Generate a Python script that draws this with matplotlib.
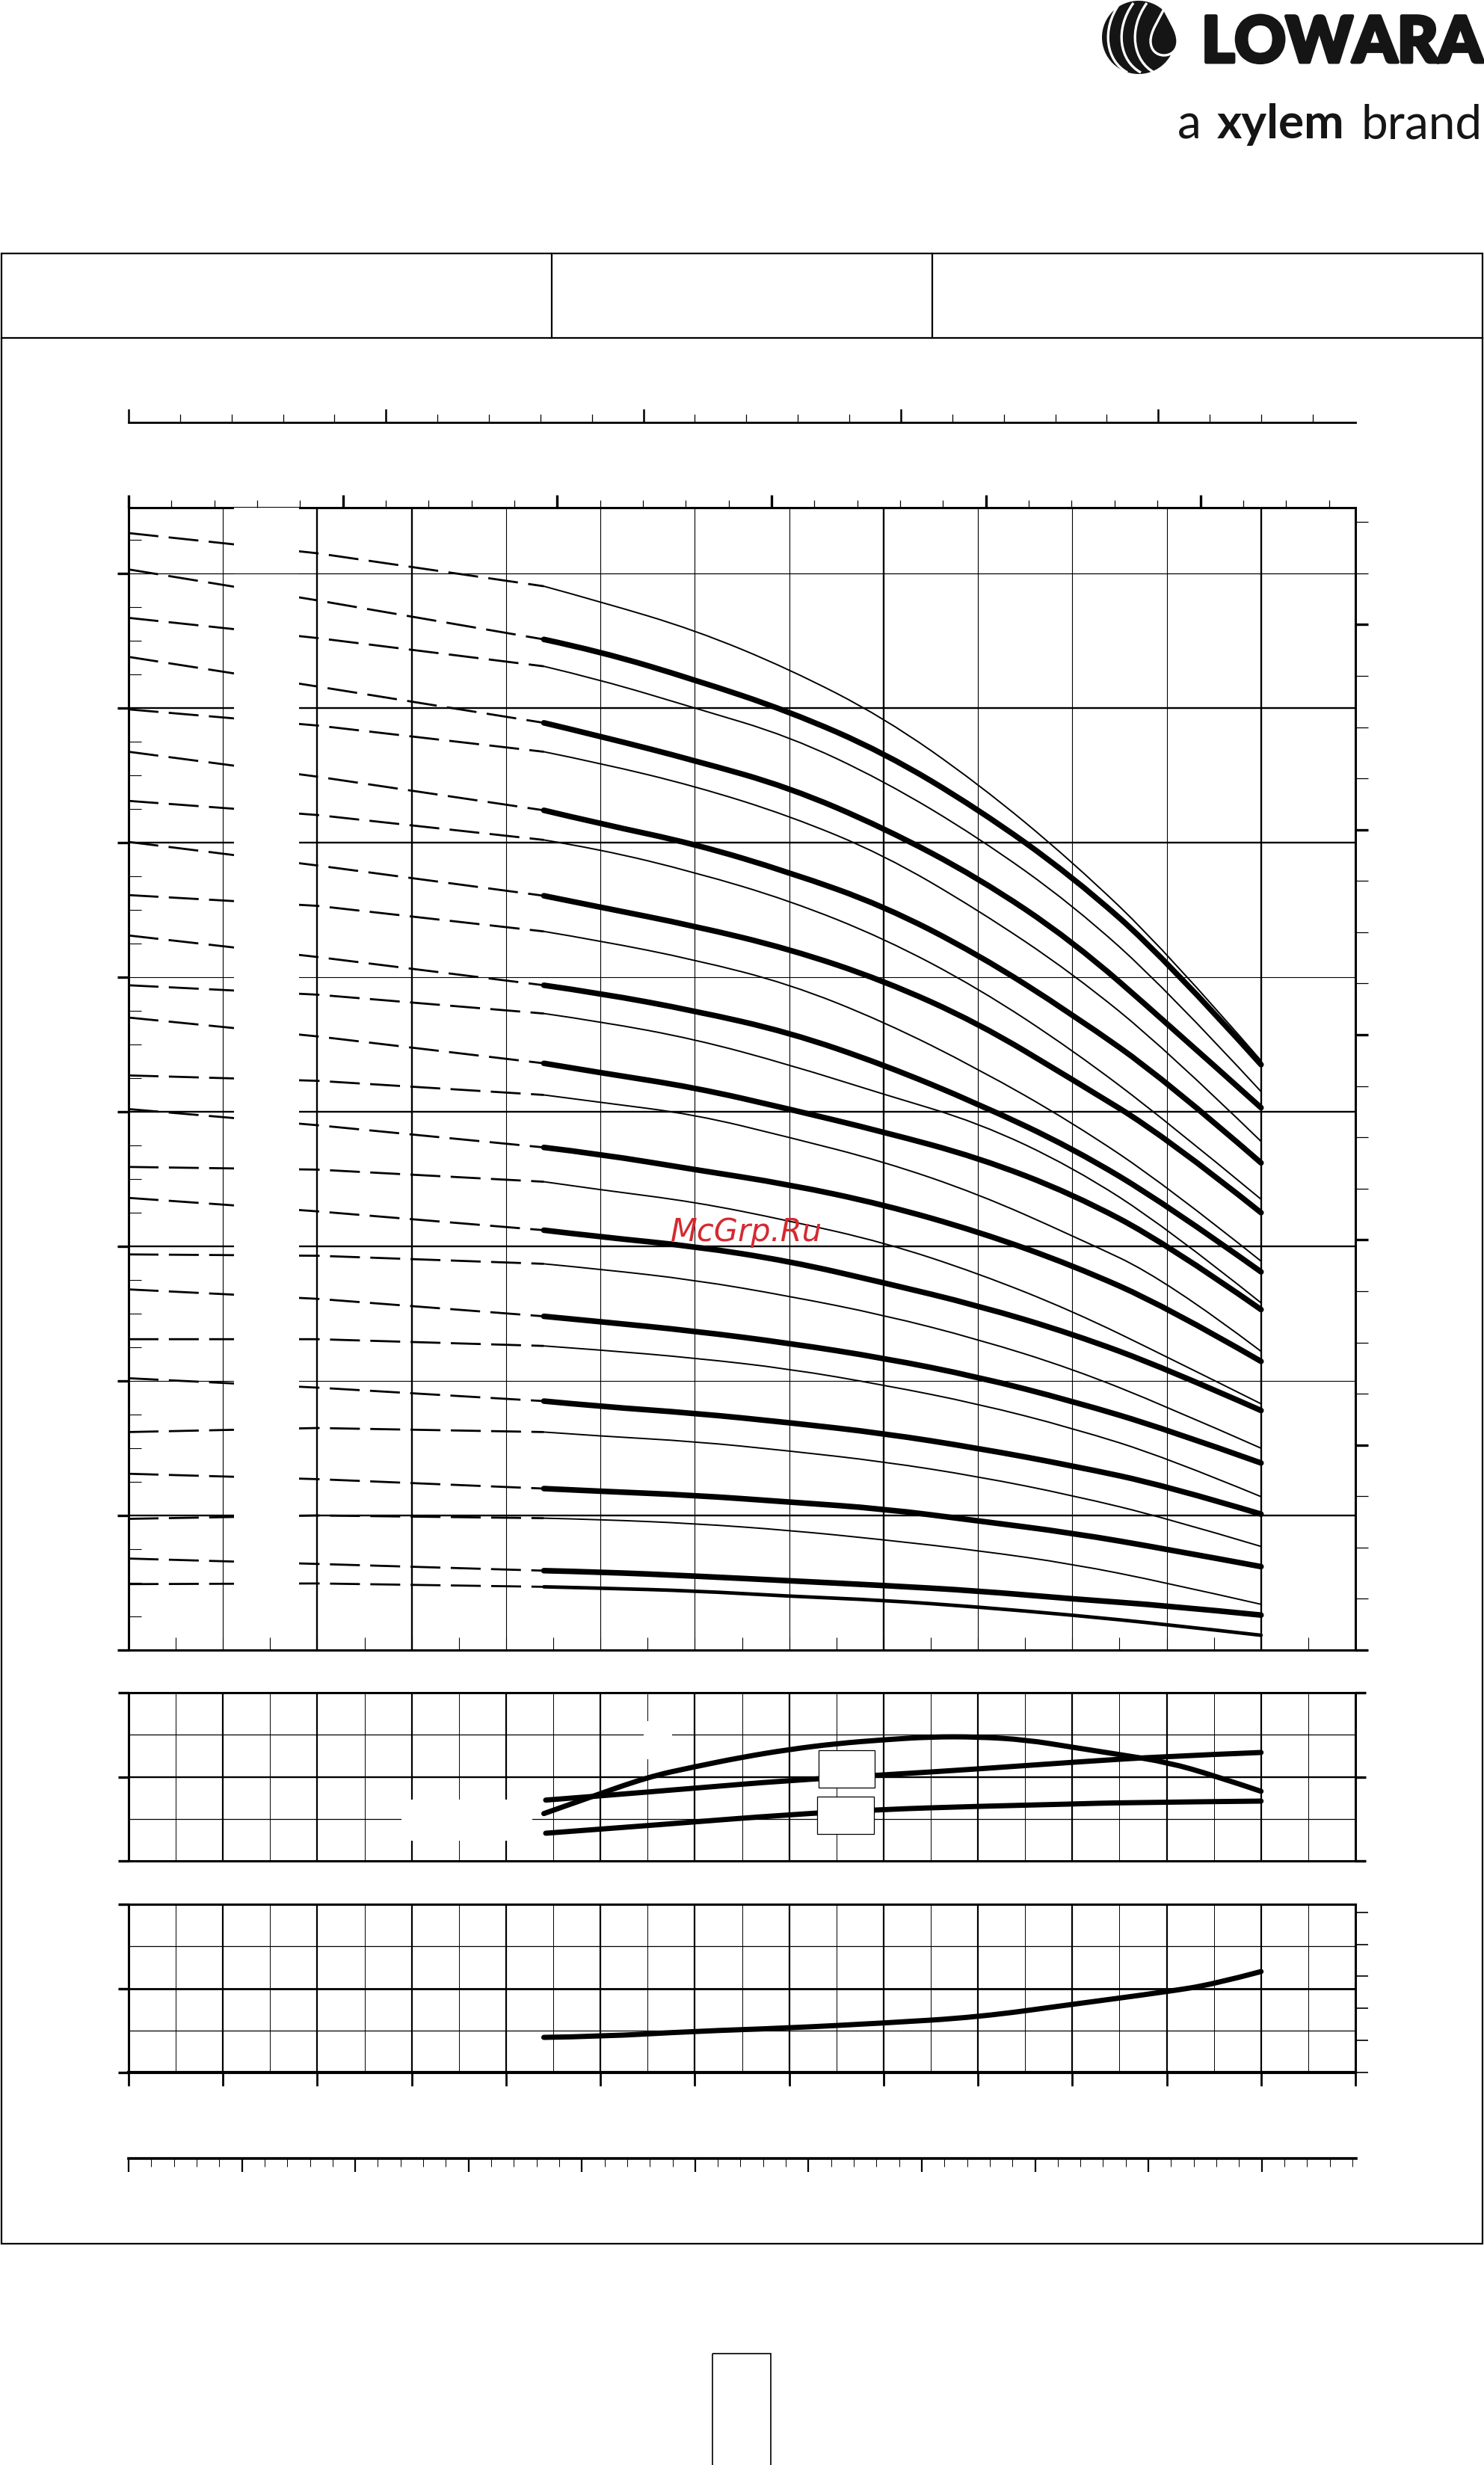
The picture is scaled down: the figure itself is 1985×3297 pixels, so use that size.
import numpy as np
import matplotlib.pyplot as plt
import matplotlib.patheffects as pe
from matplotlib.patches import Rectangle, Circle, PathPatch
from matplotlib.path import Path
from matplotlib.ticker import MultipleLocator

W, H = 1985, 3297

# flow (m3/h) where the head readings were taken
q_dash = [0, 2, 4.4]
q_run = [4.4, 5, 6, 7, 8, 9, 10, 11, 12]

# head (m), thick curves: dashed part and solid part
thick_dash = [
    [160.6, 156.0, 150.2],
    [147.6, 143.2, 137.8],
    [133.5, 129.8, 124.8],
    [120.1, 116.6, 112.1],
    [106.2, 103.0, 98.8],
    [94.0, 91.2, 87.2],
    [80.4, 78.0, 74.7],
    [67.2, 65.2, 62.4],
    [53.6, 52.2, 49.6],
    [40.4, 39.0, 37.0],
    [26.2, 25.4, 24.0],
    [13.6, 12.8, 11.8],
]
thick_run = [
    [150.2, 148.4, 144.2, 139.5, 133.4, 125.0, 115.0, 102.6, 87.0],
    [137.8, 135.8, 132.2, 128.2, 122.2, 114.8, 105.4, 93.2, 80.6],
    [124.8, 122.8, 119.8, 115.6, 110.6, 103.4, 94.5, 84.6, 72.4],
    [112.1, 110.4, 107.6, 104.2, 99.5, 93.2, 84.8, 76.2, 65.0],
    [98.8, 97.6, 95.0, 91.8, 87.0, 81.2, 74.6, 66.2, 56.2],
    [87.2, 85.8, 83.6, 80.4, 77.0, 73.2, 67.8, 60.4, 50.6],
    [74.7, 73.7, 71.4, 69.2, 66.2, 62.2, 57.2, 51.0, 42.9],
    [62.4, 61.4, 60.0, 57.8, 54.6, 51.2, 47.0, 41.8, 35.6],
    [49.6, 48.8, 47.4, 45.6, 43.4, 40.6, 37.0, 32.8, 27.8],
    [37.0, 36.2, 35.2, 33.8, 32.2, 30.0, 27.4, 24.4, 20.2],
    [24.0, 23.6, 23.0, 22.0, 21.0, 19.2, 17.4, 15.0, 12.4],
    [11.8, 11.6, 11.0, 10.3, 9.6, 8.8, 7.6, 6.6, 5.2],
]

# head (m), thin curves
thin_dash = [
    [166.0, 163.0, 158.1],
    [153.4, 150.4, 146.2],
    [139.8, 137.4, 133.5],
    [126.2, 124.1, 120.4],
    [112.2, 110.6, 106.8],
    [98.8, 97.4, 94.6],
    [85.4, 84.6, 82.5],
    [71.8, 71.4, 69.6],
    [58.8, 58.6, 57.4],
    [46.2, 46.2, 45.2],
    [32.4, 33.0, 32.4],
    [19.5, 20.0, 19.6],
]
thin_run = [
    [158.1, 155.8, 151.6, 145.8, 138.6, 128.8, 117.2, 103.8, 87.6],
    [146.2, 144.2, 140.0, 135.8, 129.2, 120.8, 110.8, 98.2, 83.0],
    [133.5, 131.8, 128.4, 124.0, 118.2, 110.0, 100.6, 89.2, 75.6],
    [120.4, 119.0, 115.6, 111.4, 105.8, 98.4, 89.2, 78.6, 67.0],
    [106.8, 105.4, 102.6, 99.0, 93.4, 86.4, 78.4, 69.0, 57.8],
    [94.6, 93.4, 90.8, 87.0, 82.6, 78.4, 71.8, 62.8, 51.6],
    [82.5, 81.4, 79.6, 76.2, 72.6, 67.8, 61.6, 55.0, 44.4],
    [69.6, 68.4, 66.6, 63.8, 60.6, 56.0, 50.4, 43.6, 36.6],
    [57.4, 56.6, 55.0, 52.6, 49.8, 46.2, 41.8, 36.2, 30.0],
    [45.2, 44.6, 43.4, 41.8, 39.4, 36.6, 33.0, 28.6, 22.8],
    [32.4, 31.8, 31.0, 29.6, 28.0, 25.8, 23.0, 19.6, 15.4],
    [19.6, 19.4, 18.8, 17.8, 16.4, 14.8, 12.8, 10.0, 6.8],
]

# lowest curve (medium weight)
low_dash = [9.8, 9.9, 9.4]
low_run = [9.4, 9.2, 8.8, 8.0, 7.4, 6.4, 5.2, 3.8, 2.2]

# efficiency (%)
q_eff = [4.4, 4.83, 5.5, 6.0, 6.51, 7.0, 7.5, 8.0, 8.49, 9.0, 9.51, 10.01, 10.51, 11.01, 11.51, 12.0]
eff = [22.5, 29.3, 39.9, 44.8, 49.4, 53.0, 55.8, 57.6, 59.0, 59.0, 57.6, 54.0, 50.5, 46.9, 40.5, 33.1]

# power (kW)
q_p1 = [4.42, 5.0, 6.0, 6.96, 8.0, 9.0, 10.0, 11.0, 12.0]
p1 = [0.723, 0.773, 0.865, 0.954, 1.022, 1.093, 1.173, 1.244, 1.289]
q_p2 = [4.42, 5.5, 5.77, 7.0, 8.0, 9.0, 10.0, 10.5, 12.0]
p2 = [0.329, 0.42, 0.444, 0.551, 0.613, 0.649, 0.676, 0.693, 0.711]

# NPSH (m)
q_npsh = [4.4, 5.0, 6.0, 6.96, 8.0, 9.0, 10.0, 11.0, 11.5, 12.0]
npsh = [1.67, 1.71, 1.96, 2.11, 2.35, 2.63, 3.24, 3.84, 4.2, 4.8]

# grid positions
grid_q_thick = [2, 3, 8, 12]
grid_q_thin = [1, 4, 5, 6, 7, 9, 10, 11]
grid_h_thick = [20, 60, 80, 120, 140]
grid_h_thin = [40, 100, 160]
half_q = [0.5 + i for i in range(13)]
int_q = list(range(1, 13))


def box(l, t, r, b):
    return [l / W, 1 - b / H, (r - l) / W, (b - t) / H]


def curve(a, xs, ys, lw, transform=None):
    # quadratic bezier path through the readings (control points = readings)
    pts = list(zip(xs, ys))
    verts = [pts[0]]
    codes = [Path.MOVETO]
    for i in range(1, len(pts) - 1):
        mid = ((pts[i][0] + pts[i + 1][0]) / 2, (pts[i][1] + pts[i + 1][1]) / 2)
        verts += [pts[i], mid]
        codes += [Path.CURVE3, Path.CURVE3]
    verts[-1] = pts[-1]
    patch = PathPatch(Path(verts, codes), fc='none', ec='k', lw=lw,
                      capstyle='round', joinstyle='round', zorder=3)
    if transform is not None:
        patch.set_transform(transform)
    a.add_patch(patch)


fig = plt.figure(figsize=(W / 100, H / 100), dpi=100)

# page frame, header and logo
bg = fig.add_axes([0, 0, 1, 1])
bg.set_xlim(0, W)
bg.set_ylim(H, 0)
bg.axis('off')
bg.add_patch(Rectangle((2, 339), 1981, 2662, fill=False, lw=1.6, ec='k'))
bg.plot([2, 1983], [452, 452], color='k', lw=1.6)
bg.plot([738, 738], [339, 452], color='k', lw=1.6)
bg.plot([1247, 1247], [339, 452], color='k', lw=1.6)
bg.add_patch(Rectangle((953, 3148), 78, 170, fill=False, lw=1.2, ec='k'))

ink = '#151515'
bg.add_patch(Circle((1523, 50), 49, fc=ink, ec='none'))
for x0 in [1498, 1516, 1534]:
    p = Path([(x0, 4), (x0 - 26, 40), (x0 - 18, 82), (x0 + 10, 97)],
             [Path.MOVETO, Path.CURVE4, Path.CURVE4, Path.CURVE4])
    bg.add_patch(PathPatch(p, fc='none', ec='white', lw=2.4))
drop = Path([(1557, 12),
             (1549, 28), (1539, 42), (1539, 55),
             (1539, 67), (1547, 74), (1557, 74),
             (1567, 74), (1575, 67), (1575, 55),
             (1575, 42), (1565, 28), (1557, 12),
             (1557, 12)],
            [Path.MOVETO] + [Path.CURVE4] * 12 + [Path.CLOSEPOLY])
bg.add_patch(PathPatch(drop, fc=ink, ec='white', lw=2.4))

r = fig.canvas.get_renderer()
logo = fig.text(1983 / W, 1 - 83 / H, 'LOWARA', family='Lato', weight='black',
                fontsize=64, ha='right', va='baseline', color=ink)
wd = logo.get_window_extent(r).width
logo.set_fontsize(64 * 376 / wd)
logo.set_path_effects([pe.withStroke(linewidth=3.5, foreground=ink)])
t3 = fig.text(1983 / W, 1 - 185 / H, 'brand', family='Lato', fontsize=46,
              ha='right', va='baseline', color=ink)
b3 = t3.get_window_extent(r)
t2 = fig.text((b3.x0 - 22) / W, 1 - 185 / H, 'xylem', family='Lato', weight='bold',
              fontsize=46, ha='right', va='baseline', color=ink)
b2 = t2.get_window_extent(r)
fig.text((b2.x0 - 22) / W, 1 - 185 / H, 'a', family='Lato', fontsize=46,
         ha='right', va='baseline', color=ink)

# Imp gpm scale
axi = fig.add_axes(box(172, 540, 1813, 565))
axi.set_facecolor('none')
axi.set_xlim(0, 13 / 0.272765)
axi.set_ylim(0, 1)
for s in ['top', 'left', 'right']:
    axi.spines[s].set_visible(False)
axi.spines['bottom'].set_linewidth(2.0)
axi.set_yticks([])
axi.xaxis.set_major_locator(MultipleLocator(10))
axi.xaxis.set_minor_locator(MultipleLocator(2))
axi.tick_params(axis='x', which='major', direction='in', length=13, width=1.8, labelbottom=False)
axi.tick_params(axis='x', which='minor', direction='in', length=8, width=0.9)

# l/min scale
axl = fig.add_axes(box(172, 2887, 1814, 2915))
axl.set_facecolor('none')
axl.set_xlim(0, 13 * 1000 / 60)
axl.set_ylim(0, 1)
for s in ['bottom', 'left', 'right']:
    axl.spines[s].set_visible(False)
axl.spines['top'].set_linewidth(2.6)
axl.set_yticks([])
axl.xaxis.set_ticks_position('top')
axl.xaxis.set_major_locator(MultipleLocator(20))
axl.xaxis.set_minor_locator(MultipleLocator(4))
axl.tick_params(axis='x', which='major', direction='in', length=13, width=1.6, labeltop=False)
axl.tick_params(axis='x', which='minor', direction='in', length=8, width=0.7)

# main head chart
hmax = (2207 - 679) / 9
ax = fig.add_axes(box(172, 679, 1813, 2207))
ax.set_xlim(0, 13)
ax.set_ylim(0, hmax)
axr = ax.twinx()
axr.set_ylim(0, hmax * 3.28084)
axt = ax.twiny()
axt.set_xlim(0, 13 * 4.40287)

for q in grid_q_thin:
    ax.axvline(q, color='k', lw=0.8, zorder=1)
for q in grid_q_thick:
    ax.axvline(q, color='k', lw=1.7, zorder=1)
for h in grid_h_thin:
    ax.axhline(h, color='k', lw=0.8, zorder=1)
for h in grid_h_thick:
    ax.axhline(h, color='k', lw=1.7, zorder=1)

for hd, hr in zip(thin_dash, thin_run):
    ax.plot(q_dash, hd, color='k', lw=2.0, dashes=(14.4, 5), zorder=3)
    curve(ax, q_run, hr, 1.4)
for hd, hr in zip(thick_dash, thick_run):
    ax.plot(q_dash, hd, color='k', lw=2.0, dashes=(14.4, 5), zorder=3)
    curve(ax, q_run, hr, 5.4)
ax.plot(q_dash, low_dash, color='k', lw=2.0, dashes=(14.4, 5), zorder=3)
curve(ax, q_run, low_run, 3.4)

# blank label column
ax.add_patch(Rectangle((1.117, 2.5), 0.69, hmax, fc='white', ec='none', zorder=4))
ax.axhline(160, color='k', lw=0.8, zorder=5)

ax.xaxis.set_major_locator(MultipleLocator(0.5))
ax.tick_params(axis='x', which='major', direction='in', length=12, width=0.8,
               labelbottom=False, top=False)
ax.yaxis.set_major_locator(MultipleLocator(20))
ax.yaxis.set_minor_locator(MultipleLocator(5))
ax.tick_params(axis='y', which='major', direction='out', length=11, width=2.4, labelleft=False)
ax.tick_params(axis='y', which='minor', direction='in', length=12, width=0.8)
axr.yaxis.set_major_locator(MultipleLocator(100))
axr.yaxis.set_minor_locator(MultipleLocator(25))
axr.tick_params(axis='y', which='major', direction='out', length=12, width=2.4, labelright=False)
axr.tick_params(axis='y', which='minor', direction='out', length=12, width=0.9)
axt.xaxis.set_major_locator(MultipleLocator(10))
axt.xaxis.set_minor_locator(MultipleLocator(2))
axt.tick_params(axis='x', which='major', direction='out', length=12, width=2.4, labeltop=False)
axt.tick_params(axis='x', which='minor', direction='out', length=7, width=0.9)
for a in [axr, axt]:
    for s in a.spines.values():
        s.set_visible(False)
for s in ax.spines.values():
    s.set_linewidth(2.2)

# efficiency / power chart
axe = fig.add_axes(box(172, 2264, 1813, 2489))
axe.set_xlim(0, 13)
axe.set_ylim(0, 80)
axp = axe.twinx()
axp.set_ylim(0, 2)
for q in half_q:
    axe.axvline(q, color='k', lw=0.7, zorder=1)
for q in int_q:
    axe.axvline(q, color='k', lw=1.6, zorder=1)
for h in [20, 60]:
    axe.axhline(h, color='k', lw=0.9, zorder=1)
axe.axhline(40, color='k', lw=1.7, zorder=1)
axe.add_patch(Rectangle((2.89, 9.6), 1.39, 19.6, fc='white', ec='none', zorder=2))
axe.add_patch(Rectangle((5.46, 48.4), 0.30, 18.1, fc='white', ec='none', zorder=2))
curve(axe, q_eff, eff, 5.0)
curve(axp, q_p1, p1, 5.0)
curve(axp, q_p2, p2, 5.0)
axp.add_patch(Rectangle((7.31, 34.7), 0.60, 17.8, fc='white', ec='k', lw=0.9,
                        transform=axe.transData, zorder=6))
axp.add_patch(Rectangle((7.30, 12.7), 0.60, 17.8, fc='white', ec='k', lw=0.9,
                        transform=axe.transData, zorder=6))
axe.set_xticks([])
axe.set_yticks([0, 40, 80])
axe.tick_params(axis='y', direction='out', length=10, width=2.4, labelleft=False)
axp.set_yticks([0, 1, 2])
axp.tick_params(axis='y', direction='out', length=10, width=2.4, labelright=False)
for s in axp.spines.values():
    s.set_visible(False)
for s in axe.spines.values():
    s.set_linewidth(2.2)

# NPSH chart (m on the left, ft on the right)
axn = fig.add_axes(box(172, 2547, 1813, 2772))
axn.set_xlim(0, 13)
axn.set_ylim(0, 8)
axf = axn.twinx()
axf.set_ylim(0, 8 * 3.28084)
for q in half_q:
    axn.axvline(q, color='k', lw=0.7, zorder=1)
for q in int_q:
    axn.axvline(q, color='k', lw=1.6, zorder=1)
for h in [2, 6]:
    axn.axhline(h, color='k', lw=0.9, zorder=1)
axn.axhline(4, color='k', lw=2.0, zorder=1)
curve(axn, q_npsh, npsh, 5.0)
axn.xaxis.set_major_locator(MultipleLocator(1))
axn.tick_params(axis='x', direction='out', length=13, width=2.0, labelbottom=False)
axn.set_yticks([0, 4, 8])
axn.tick_params(axis='y', direction='out', length=10, width=2.4, labelleft=False)
axf.yaxis.set_major_locator(MultipleLocator(5))
axf.tick_params(axis='y', direction='out', length=12, width=1.2, labelright=False)
for s in axf.spines.values():
    s.set_visible(False)
for s in axn.spines.values():
    s.set_linewidth(2.2)
axn.spines['bottom'].set_linewidth(3.0)

fig.text(998 / W, 1 - 1648 / H, 'McGrp.Ru', color='#d42a2f', fontsize=30,
         style='italic', ha='center', va='center', zorder=10)

fig.savefig('out.png', dpi=100)
